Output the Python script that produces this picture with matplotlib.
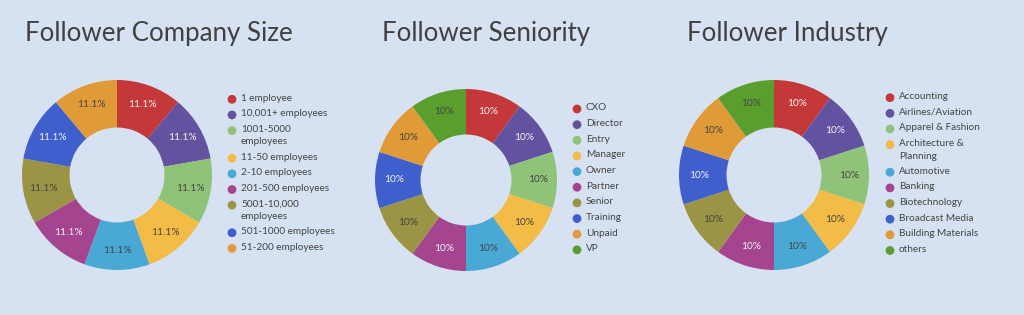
import numpy as np
import matplotlib
matplotlib.use("Agg")
import matplotlib.pyplot as plt

plt.rcParams["font.family"] = ["Lato", "DejaVu Sans"]

# Data
size_labels = ["1 employee", "10,001+ employees", "1001-5000\nemployees", "11-50 employees",
               "2-10 employees", "201-500 employees", "5001-10,000\nemployees",
               "501-1000 employees", "51-200 employees"]
size_values = [11.1] * 9

seniority_labels = ["CXO", "Director", "Entry", "Manager", "Owner", "Partner",
                    "Senior", "Training", "Unpaid", "VP"]
seniority_values = [10] * 10

industry_labels = ["Accounting", "Airlines/Aviation", "Apparel & Fashion",
                   "Architecture &\nPlanning", "Automotive", "Banking", "Biotechnology",
                   "Broadcast Media", "Building Materials", "others"]
industry_values = [10] * 10

COLORS = ["#c4383a", "#6352a0", "#8fc478", "#f3bc46", "#4aa9d4",
          "#a5448f", "#9a9444", "#3f5fcc", "#e09a38", "#5a9f2e"]
TEXT_LIGHT = [True, True, False, False, False, True, False, True, False, False]
BG = "#d6e2f2"

W, H = 1024, 315
fig = plt.figure(figsize=(W / 100, H / 100), dpi=100)
fig.patch.set_facecolor(BG)

# overlay axes in pixel coords for titles / legends
ov = fig.add_axes([0, 0, 1, 1], zorder=5)
ov.set_xlim(0, W)
ov.set_ylim(H, 0)
ov.axis("off")


def donut(cx, cy, r, labels, values, fmt, title, tx, ty, lx, ly):
    ax = fig.add_axes([(cx - r) / W, 1 - (cy + r) / H, 2 * r / W, 2 * r / H])
    cols = COLORS[:len(values)]
    ax.pie(values, colors=cols, startangle=90, counterclock=False,
           radius=1.0, wedgeprops=dict(width=0.5, linewidth=0))
    total = sum(values)
    ang = 90.0
    for i, v in enumerate(values):
        mid = ang - v / total * 180.0
        ang -= v / total * 360.0
        tcol = "#f2f2f2" if TEXT_LIGHT[i] else "#444444"
        ax.text(0.79 * np.cos(np.radians(mid)), 0.79 * np.sin(np.radians(mid)),
                fmt.format(v), ha="center", va="center", fontsize=7.3, color=tcol)
    ax.set_xlim(-1, 1)
    ax.set_ylim(-1, 1)
    ax.set_aspect("equal")
    ax.axis("off")

    ov.text(tx, ty, title, fontsize=18.6, color="#404040", ha="left", va="baseline")

    ys = []
    y = ly
    for lab in labels:
        ys.append(y)
        ov.text(lx + 9, y - 5.6, lab, fontsize=7.2, color="#444444",
                ha="left", va="top", linespacing=1.5)
        y += 27.6 if "\n" in lab else 15.65
    ov.scatter([lx] * len(ys), ys, s=40, c=cols, linewidths=0)


donut(117, 175, 95, size_labels, size_values, "{:.1f}%", "Follower Company Size",
      25, 41, 232, 99.3)
donut(466, 180, 91, seniority_labels, seniority_values, "{:.0f}%", "Follower Seniority",
      382, 41, 577, 109)
donut(774, 175, 95, industry_labels, industry_values, "{:.0f}%", "Follower Industry",
      687, 41, 890, 97.7)

fig.savefig("out.png", dpi=100, facecolor=BG)
